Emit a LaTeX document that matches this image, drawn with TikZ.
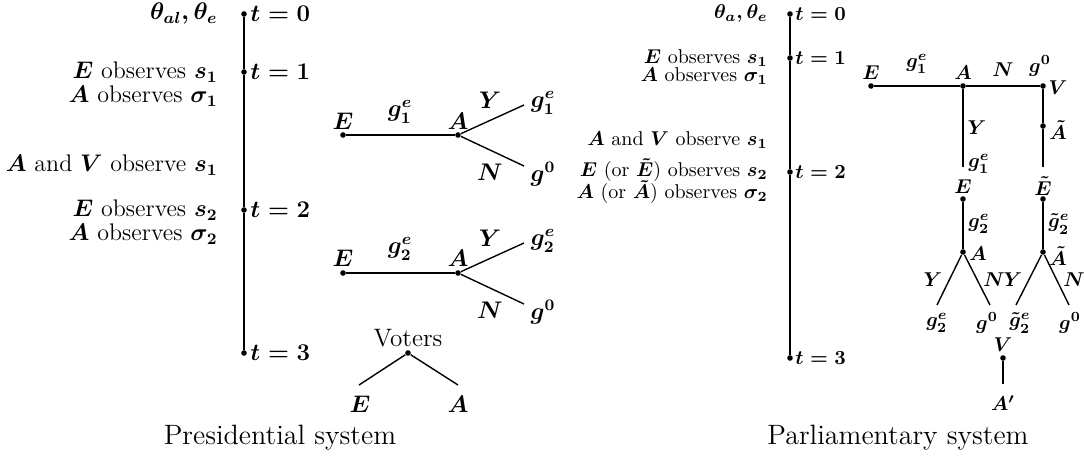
\documentclass[tikz,border=0pt]{standalone}
\usepackage{amsmath}
\begin{document}
\begin{tikzpicture}[x=0.5pt,y=-0.5pt,
  dot/.style={circle,fill,inner sep=0pt,minimum size=2.8pt},
  L/.style={inner sep=0pt,font=\fontsize{12}{14}\selectfont\boldmath},
  R/.style={inner sep=0pt,font=\fontsize{10}{12}\selectfont\boldmath},
  capt/.style={inner sep=0pt,font=\fontsize{14}{17}\selectfont},
  ln/.style={line width=0.7pt}]
\useasboundingbox (0,0) rectangle (1084,465);

% ---------- Presidential: timeline ----------
\node[dot] (p0) at (244,14) {};
\node[dot] (p1) at (244,72) {};
\node[dot] (p2) at (244,210) {};
\node[dot] (p3) at (244,353) {};
\draw[ln] (p0) -- (p1) -- (p2) -- (p3);
\node[L,anchor=west] (pt0) at (250,14) {$t=0$};
\node[L,anchor=west] (pt1) at (250,72) {$t=1$};
\node[L,anchor=west] (pt2) at (250,210) {$t=2$};
\node[L,anchor=west] (pt3) at (250,353) {$t=3$};
\node[L,anchor=east] (pa) at (218,14) {$\theta_{al},\theta_e$};
\node[L,anchor=east] (pb) at (218,72) {$E$ observes $s_1$};
\node[L,anchor=east] (pc) at (218,96) {$A$ observes $\sigma_1$};
\node[L,anchor=east] (pd) at (218,165) {$A$ and $V$ observe $s_1$};
\node[L,anchor=east] (pe) at (218,210) {$E$ observes $s_2$};
\node[L,anchor=east] (pf) at (218,234) {$A$ observes $\sigma_2$};

% ---------- Presidential: tree 1 ----------
\node[dot] (e1) at (343,135) {};
\node[dot] (a1) at (458,135) {};
\coordinate (y1) at (524,105);
\coordinate (n1) at (524,166);
\draw[ln] (e1) -- (a1);
\draw[ln] (a1) -- (y1);
\draw[ln] (a1) -- (n1);
\node[L] (e1l) at (343,121) {$E$};
\node[L] (g1l) at (400,112) {$g_1^e$};
\node[L] (a1l) at (458,121) {$A$};
\node[L] (y1l) at (490,100) {$Y$};
\node[L] (n1l) at (490,172) {$N$};
\node[L] (g1leaf) at (543,103) {$g_1^e$};
\node[L] (g0leaf1) at (543,174) {$g^0$};

% ---------- Presidential: tree 2 ----------
\node[dot] (e2) at (343,273) {};
\node[dot] (a2) at (458,273) {};
\coordinate (y2) at (524,243);
\coordinate (n2) at (524,304);
\draw[ln] (e2) -- (a2);
\draw[ln] (a2) -- (y2);
\draw[ln] (a2) -- (n2);
\node[L] (e2l) at (343,258) {$E$};
\node[L] (g2l) at (400,249) {$g_2^e$};
\node[L] (a2l) at (458,258) {$A$};
\node[L] (y2l) at (490,238) {$Y$};
\node[L] (n2l) at (490,310) {$N$};
\node[L] (g2leaf) at (543,241) {$g_2^e$};
\node[L] (g0leaf2) at (543,312) {$g^0$};

% ---------- Presidential: voters ----------
\node[dot] (vot) at (408,353) {};
\node[L,font=\fontsize{12.6}{14}\selectfont] (votl) at (408,338) {Voters};
\coordinate (ve) at (359,385);
\coordinate (va) at (458,385);
\draw[ln] (vot) -- (ve);
\draw[ln] (vot) -- (va);
\node[L] (vel) at (360,404) {$E$};
\node[L] (val) at (458,404) {$A$};

\node[capt] (cp) at (280,438) {Presidential system};

% ---------- Parliamentary: timeline ----------
\node[dot] (q0) at (790,14) {};
\node[dot] (q1) at (790,58) {};
\node[dot] (q2) at (790,172) {};
\node[dot] (q3) at (790,358) {};
\draw[ln] (q0) -- (q1) -- (q2) -- (q3);
\node[R,anchor=west] (qt0) at (795,14) {$t=0$};
\node[R,anchor=west] (qt1) at (795,58) {$t=1$};
\node[R,anchor=west] (qt2) at (795,172) {$t=2$};
\node[R,anchor=west] (qt3) at (795,358) {$t=3$};
\node[R,anchor=east] (qa) at (768,14) {$\theta_a,\theta_e$};
\node[R,anchor=east] (qb) at (768,58) {$E$ observes $s_1$};
\node[R,anchor=east] (qc) at (768,76) {$A$ observes $\sigma_1$};
\node[R,anchor=east] (qd) at (768,140) {$A$ and $V$ observe $s_1$};
\node[R,anchor=east] (qe) at (768,170) {$E$ (or $\tilde{E}$) observes $s_2$};
\node[R,anchor=east] (qf) at (768,192) {$A$ (or $\tilde{A}$) observes $\sigma_2$};

% ---------- Parliamentary: tree ----------
\node[dot] (E0) at (871,86) {};
\node[dot] (A0) at (963,86) {};
\node[dot] (V0) at (1043,86) {};
\draw[ln] (E0) -- (A0) -- (V0);
\node[R] (E0l) at (871,73) {$E$};
\node[R] (g1a) at (917,64) {$g_1^e$};
\node[R] (A0l) at (963,73) {$A$};
\node[R] (N0l) at (1003,70) {$N$};
\node[R] (g0a) at (1040,66) {$g^0$};
\node[R] (V0l) at (1058,88) {$V$};

% left branch
\coordinate (Yend) at (963,167);
\draw[ln] (A0) -- (Yend);
\node[R] (Y0l) at (977,128) {$Y$};
\node[R] (g1b) at (979,164) {$g_1^e$};
\node[R] (E1l) at (963,187) {$E$};
\node[dot] (E1) at (963,199) {};
\node[dot] (A1) at (963,252) {};
\draw[ln] (E1) -- (A1);
\node[R] (g2b) at (979,224) {$g_2^e$};
\node[R] (A1l) at (978,254) {$A$};
\coordinate (A1y) at (937,305);
\coordinate (A1n) at (990,305);
\draw[ln] (A1) -- (A1y);
\draw[ln] (A1) -- (A1n);
\node[R] (A1yl) at (933,280) {$Y$};
\node[R] (A1nl) at (994,280) {$N$};
\node[R] (g2c) at (937,323) {$g_2^e$};
\node[R] (g0b) at (987,323) {$g^0$};

% right branch
\node[dot] (At0) at (1043,126) {};
\coordinate (Vend) at (1043,167);
\draw[ln] (V0) -- (At0) -- (Vend);
\node[R] (At0l) at (1058,130) {$\tilde{A}$};
\node[R] (Et1l) at (1043,186) {$\tilde{E}$};
\node[dot] (Et1) at (1043,199) {};
\node[dot] (At1) at (1043,252) {};
\draw[ln] (Et1) -- (At1);
\node[R] (gt2) at (1059,224) {$\tilde{g}_2^e$};
\node[R] (At1l) at (1058,256) {$\tilde{A}$};
\coordinate (At1y) at (1016,305);
\coordinate (At1n) at (1069,305);
\draw[ln] (At1) -- (At1y);
\draw[ln] (At1) -- (At1n);
\node[R] (At1yl) at (1013,280) {$Y$};
\node[R] (At1nl) at (1074,280) {$N$};
\node[R] (gt2c) at (1020,323) {$\tilde{g}_2^e$};
\node[R] (g0c) at (1070,323) {$g^0$};

% voter
\node[R] (Vvl) at (1003,345) {$V$};
\node[dot] (Vv) at (1003,358) {};
\coordinate (Vvend) at (1003,384);
\draw[ln] (Vv) -- (Vvend);
\node[R] (Apl) at (1003,403) {$A'$};

\node[capt] (cq) at (898,438) {Parliamentary system};
\end{tikzpicture}
\end{document}
